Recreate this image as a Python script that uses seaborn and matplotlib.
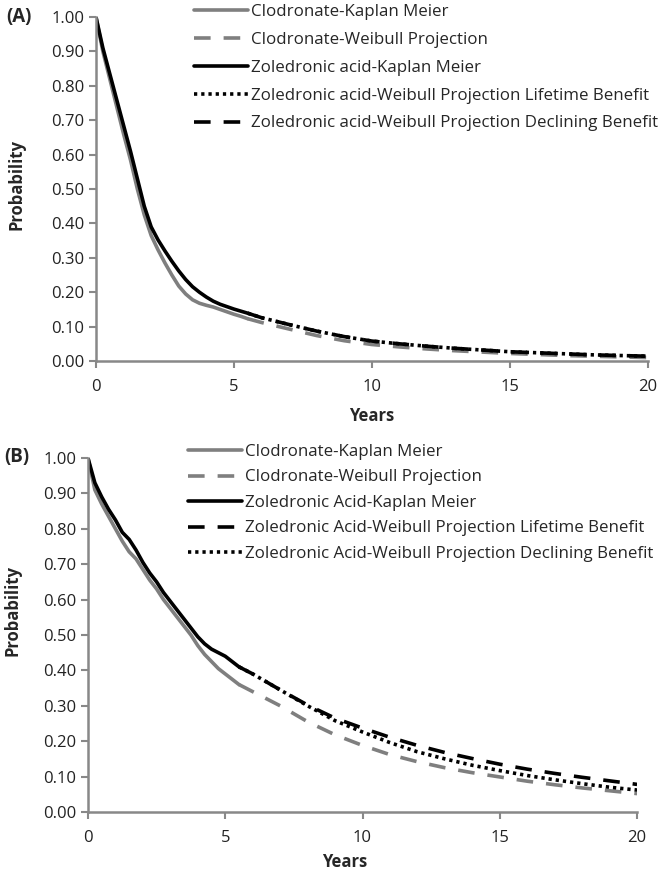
import numpy as np
import pandas as pd
import seaborn as sns
import matplotlib
matplotlib.use('Agg')
import matplotlib.pyplot as plt

#* STEP 1: data

# Kaplan Meier time points (years), same for both panels
km_years = [0, 0.25, 0.5, 0.75, 1.0, 1.25, 1.5, 1.75, 2.0, 2.25, 2.5, 2.75,
            3.0, 3.25, 3.5, 3.75, 4.0, 4.25, 4.5, 4.75, 5.0, 5.25, 5.5]
# Weibull projection time points (years)
proj_years = [5.5, 6, 7, 8, 9, 10, 11, 12, 13, 14, 15, 16, 17, 18, 19, 20]

# panel (A)
a_clo_km = [1.0, 0.90, 0.82, 0.74, 0.66, 0.585, 0.50, 0.425, 0.365, 0.323, 0.285, 0.25,
            0.218, 0.195, 0.178, 0.168, 0.162, 0.157, 0.15, 0.143, 0.136, 0.13, 0.123]
a_clo_proj = [0.123, 0.112, 0.093, 0.074, 0.059, 0.048, 0.041, 0.035, 0.030, 0.026,
              0.022, 0.019, 0.016, 0.014, 0.012, 0.010]
a_zol_km = [1.0, 0.91, 0.835, 0.76, 0.685, 0.61, 0.53, 0.45, 0.39, 0.352, 0.32, 0.29,
            0.262, 0.237, 0.216, 0.20, 0.186, 0.174, 0.165, 0.158, 0.151, 0.145, 0.139]
a_zol_life = [0.139, 0.126, 0.106, 0.087, 0.071, 0.058, 0.050, 0.043, 0.037, 0.032,
              0.027, 0.024, 0.021, 0.018, 0.016, 0.014]
a_zol_decl = [0.139, 0.126, 0.106, 0.087, 0.071, 0.058, 0.050, 0.043, 0.037, 0.032,
              0.027, 0.024, 0.021, 0.018, 0.016, 0.014]

# panel (B)
b_clo_km = [1.0, 0.91, 0.87, 0.835, 0.80, 0.765, 0.735, 0.715, 0.685, 0.655, 0.63, 0.60,
            0.575, 0.55, 0.525, 0.50, 0.47, 0.445, 0.425, 0.405, 0.39, 0.375, 0.36]
b_clo_proj = [0.36, 0.34, 0.30, 0.255, 0.218, 0.188, 0.162, 0.142, 0.125, 0.111,
              0.099, 0.087, 0.077, 0.068, 0.060, 0.052]
b_zol_km = [1.0, 0.93, 0.89, 0.855, 0.825, 0.79, 0.77, 0.74, 0.705, 0.675, 0.65, 0.62,
            0.595, 0.57, 0.545, 0.52, 0.495, 0.475, 0.46, 0.45, 0.44, 0.425, 0.41]
b_zol_life = [0.41, 0.39, 0.345, 0.302, 0.265, 0.237, 0.211, 0.188, 0.168, 0.151,
              0.135, 0.121, 0.109, 0.098, 0.088, 0.078]
b_zol_decl = [0.41, 0.39, 0.345, 0.30, 0.258, 0.226, 0.196, 0.170, 0.150, 0.132,
              0.117, 0.103, 0.091, 0.080, 0.070, 0.062]

a_labels = ['Clodronate-Kaplan Meier', 'Clodronate-Weibull Projection',
            'Zoledronic acid-Kaplan Meier',
            'Zoledronic acid-Weibull Projection Lifetime Benefit',
            'Zoledronic acid-Weibull Projection Declining Benefit']
b_labels = ['Clodronate-Kaplan Meier', 'Clodronate-Weibull Projection',
            'Zoledronic Acid-Kaplan Meier',
            'Zoledronic Acid-Weibull Projection Lifetime Benefit',
            'Zoledronic Acid-Weibull Projection Declining Benefit']

#* STEP 2: styles

sns.set_style('ticks')
plt.rcParams['font.family'] = ['Open Sans', 'DejaVu Sans']

gray = '#7f7f7f'
dash = (0, (4.6, 3.6))
dot = (0, (0.9, 1.1))
lw = 2.6

fig = plt.figure(figsize=(6.68, 8.75), dpi=100)
ax_a = fig.add_axes([0.1437, 0.5874, 0.826, 0.3931])
ax_b = fig.add_axes([0.1317, 0.072, 0.822, 0.4046])


def draw_panel(ax, clo_km, clo_proj, zol_km, zol_life, zol_decl, labels, life_style, decl_style):
    sns.lineplot(x=km_years, y=clo_km, ax=ax, color=gray, lw=lw, label=labels[0])
    sns.lineplot(x=proj_years, y=clo_proj, ax=ax, color=gray, lw=lw, linestyle=dash, label=labels[1])
    sns.lineplot(x=km_years, y=zol_km, ax=ax, color='black', lw=lw, label=labels[2])
    sns.lineplot(x=proj_years, y=zol_life, ax=ax, color='black', lw=lw, linestyle=life_style,
                 label=labels[3])
    sns.lineplot(x=proj_years, y=zol_decl, ax=ax, color='black', lw=lw, linestyle=decl_style,
                 label=labels[4])
    ax.set_xlim(0, 20)
    ax.set_ylim(0, 1)
    ax.set_xticks([0, 5, 10, 15, 20])
    ax.set_yticks(np.arange(0, 1.01, 0.1))
    ax.set_yticklabels([f'{v:.2f}' for v in np.arange(0, 1.01, 0.1)])
    ax.tick_params(colors='#888888', labelcolor='#222222', labelsize=12, length=5, width=1.5)
    ax.tick_params(axis='x', pad=8)
    for side in ['left', 'bottom']:
        ax.spines[side].set_color('#888888')
        ax.spines[side].set_linewidth(1.8)
    sns.despine(ax=ax)
    ax.set_xlabel('')
    ax.set_ylabel('')


# in (A) the lifetime line is dotted and the declining one dashed, in (B) the other way round
draw_panel(ax_a, a_clo_km, a_clo_proj, a_zol_km, a_zol_life, a_zol_decl, a_labels, dot, dash)
draw_panel(ax_b, b_clo_km, b_clo_proj, b_zol_km, b_zol_life, b_zol_decl, b_labels, dash, dot)

ax_a.legend(loc='upper left', bbox_to_anchor=(194 / 668, 1 - 4 / 875), bbox_transform=fig.transFigure,
            frameon=False, fontsize=12.2, handlelength=3.2, handletextpad=0.15, labelspacing=0.7,
            borderpad=0, borderaxespad=0)
ax_b.legend(loc='upper left', bbox_to_anchor=(188 / 668, 1 - 444 / 875), bbox_transform=fig.transFigure,
            frameon=False, fontsize=12.2, handlelength=3.2, handletextpad=0.15, labelspacing=0.56,
            borderpad=0, borderaxespad=0)

# panel tags and axis titles
fig.text(6 / 668, 1 - 17 / 875, '(A)', fontsize=13.5, fontweight='bold', va='center', ha='left')
fig.text(4 / 668, 1 - 457 / 875, '(B)', fontsize=13.5, fontweight='bold', va='center', ha='left')
fig.text(17 / 668, 1 - 185 / 875, 'Probability', fontsize=12, fontweight='bold', rotation=90,
         va='center', ha='center')
fig.text(13 / 668, 1 - 610 / 875, 'Probability', fontsize=12, fontweight='bold', rotation=90,
         va='center', ha='center')
fig.text(372 / 668, 1 - 416 / 875, 'Years', fontsize=12, fontweight='bold', va='center', ha='center')
fig.text(345 / 668, 1 - 862 / 875, 'Years', fontsize=12, fontweight='bold', va='center', ha='center')

plt.savefig('out.png', dpi=100)
